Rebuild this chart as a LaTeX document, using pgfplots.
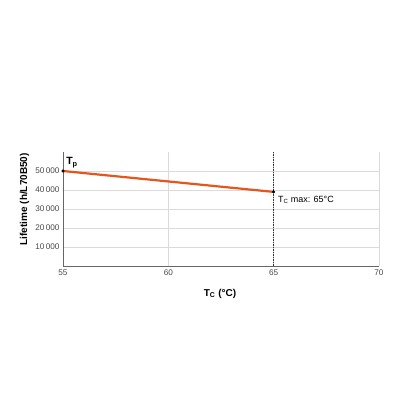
\documentclass[border=0pt]{standalone}
\usepackage{fontspec}
\setmainfont{Liberation Sans}
\usepackage{pgfplots}
\pgfplotsset{compat=1.18}
\definecolor{lineorange}{HTML}{E4561E}
\definecolor{tickgray}{HTML}{4A4A4A}
\definecolor{gridgray}{HTML}{DADADA}
\begin{document}
\begin{tikzpicture}[x=1pt,y=1pt]
\useasboundingbox (0,0) rectangle (400,400);
\begin{axis}[
    at={(63pt,134pt)}, anchor=south west,
    scale only axis,
    width=316pt, height=114pt,
    xmin=55, xmax=70, ymin=0, ymax=60000,
    xtick={55,60,65,70},
    ytick={10000,20000,30000,40000,50000},
    scaled y ticks=false,
    /pgf/number format/assume math mode=true,
    yticklabel style={/pgf/number format/.cd, 1000 sep={\,}},
    ticklabel style={font=\fontsize{8.2}{9}\selectfont, text=tickgray},
    major tick length=0pt,
    axis x line*=bottom, axis y line*=left,
    axis line style={draw=gray!80!black, line width=0.9pt, -},
    grid=major,
    grid style={draw=gridgray, line width=0.6pt},
    xlabel={\textbf{T\textsubscript{C} (°C)}},
    ylabel={\textbf{Lifetime (h/L70B50)}},
    label style={font=\fontsize{10}{12}\selectfont},
    xlabel style={at={(axis description cs:0.497,-0.17)}, anchor=north},
    ylabel style={at={(axis description cs:-0.122,0.585)}, anchor=center},
    clip=false,
]
\addplot[draw=lineorange, line width=2.2pt] coordinates {(55,50000) (65,39000)};
\addplot[only marks, mark=*, mark size=1.3pt, black] coordinates {(55,50000) (65,39000)};
\addplot[black!80, dash pattern=on 1.5pt off 1pt, line width=0.6pt] coordinates {(65,0) (65,60000)};
\node[anchor=south west, font=\bfseries\fontsize{10.5}{12}\selectfont, inner sep=1pt] at (axis cs:55.1,51000) {T\textsubscript{p}};
\node[anchor=north west, font=\fontsize{9}{11}\selectfont, inner sep=1pt] at (axis cs:65.15,37500) {T\textsubscript{C} max: 65°C};
\end{axis}
\end{tikzpicture}
\end{document}
